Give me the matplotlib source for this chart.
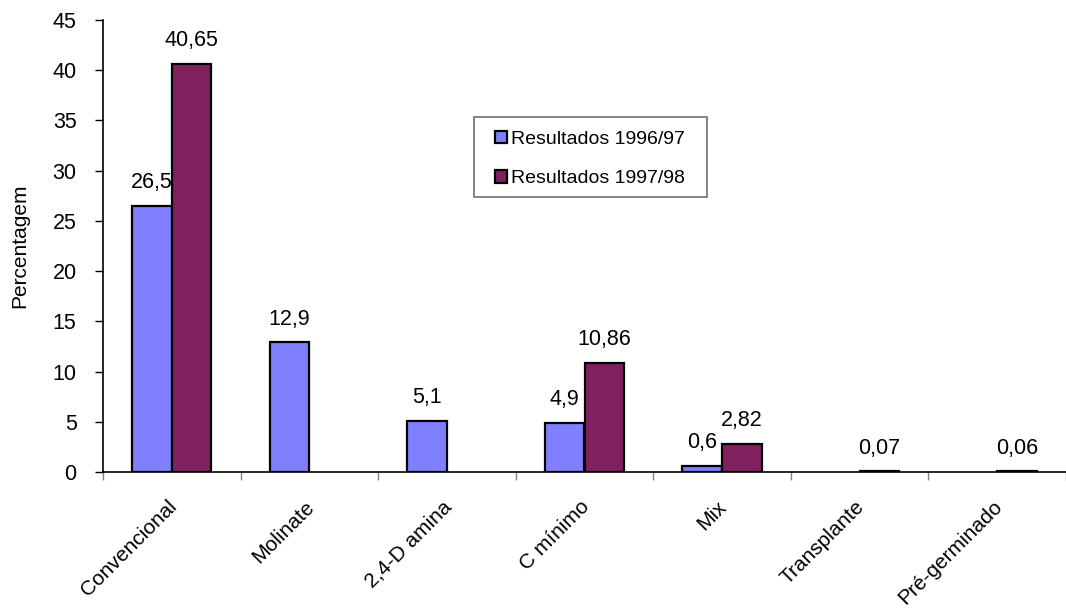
import numpy as np
import matplotlib.pyplot as plt
from matplotlib.transforms import ScaledTranslation
from matplotlib.patches import Rectangle

plt.rcParams['font.family'] = ['Liberation Sans', 'DejaVu Sans']

categorias = ['Convencional', 'Molinate', '2,4-D amina', 'C mínimo', 'Mix',
              'Transplante', 'Pré-germinado']
res_9697 = [26.5, 12.9, 5.1, 4.9, 0.6, np.nan, np.nan]
res_9798 = [40.65, np.nan, np.nan, 10.86, 2.82, 0.07, 0.06]
rotulos_9697 = ['26,5', '12,9', '5,1', '4,9', '0,6', '', '']
rotulos_9798 = ['40,65', '', '', '10,86', '2,82', '0,07', '0,06']

fig = plt.figure(figsize=(10.66, 6.10), dpi=100)
ax = fig.add_axes([103 / 1066, 138 / 610, 963 / 1066, 452 / 610])

x = np.arange(len(categorias))
w = 0.288
b1 = ax.bar(x - w / 2, res_9697, w, color='#8080FF', edgecolor='black',
            linewidth=1.6, label='Resultados 1996/97')
b2 = ax.bar(x + w / 2, res_9798, w, color='#80205F', edgecolor='black',
            linewidth=1.6, label='Resultados 1997/98')

for bars, vals, txts in [(b1, res_9697, rotulos_9697), (b2, res_9798, rotulos_9798)]:
    for rect, v, t in zip(bars, vals, txts):
        if t:
            ax.annotate(t, (rect.get_x() + rect.get_width() / 2, v),
                        xytext=(0, 9), textcoords='offset points',
                        ha='center', va='bottom', fontsize=15.5)

ax.set_xlim(-0.5, -0.5 + 963 / 138.8)
ax.set_ylim(0, 45)
ax.set_yticks(np.arange(0, 46, 5))
ax.tick_params(axis='y', length=6, width=1, labelsize=15.5, pad=13)
ax.set_ylabel('Percentagem', fontsize=15, labelpad=17)

ax.set_xticks(x)
ax.set_xticklabels(categorias, rotation=45, ha='right', rotation_mode='anchor',
                   fontsize=15)
ax.tick_params(axis='x', length=0, pad=18)
shift = ScaledTranslation(-0.05, 0, fig.dpi_scale_trans)
for lbl in ax.get_xticklabels():
    lbl.set_transform(lbl.get_transform() + shift)
ax.set_xticks(np.arange(-0.5, 7, 1), minor=True)
ax.tick_params(axis='x', which='minor', length=6, width=1, color='gray')

for s in ['top', 'right']:
    ax.spines[s].set_visible(False)
ax.spines['left'].set_linewidth(1.2)
ax.spines['bottom'].set_linewidth(1.2)

# legend entries without frame, box drawn separately
leg = ax.legend(loc='upper left', bbox_to_anchor=(392 / 963, 341 / 452),
                fontsize=14, frameon=False, handlelength=0.6,
                handleheight=0.6, handletextpad=0.2, labelspacing=1.15,
                borderpad=0, borderaxespad=0)
fig.patches.append(Rectangle((474 / 1066, 413 / 610), 233 / 1066, 80 / 610,
                             transform=fig.transFigure, fill=False,
                             edgecolor='#707070', linewidth=1.2))

plt.savefig('out.png', dpi=100)
